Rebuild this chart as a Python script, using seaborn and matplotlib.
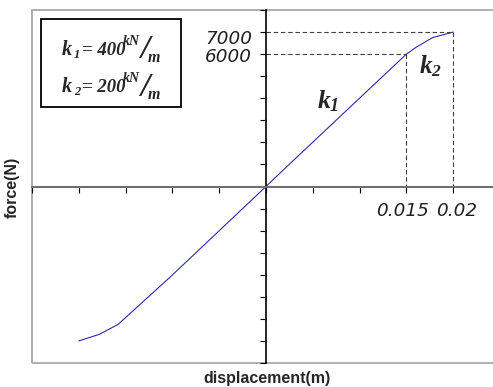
import numpy as np
import pandas as pd
import seaborn as sns
import matplotlib.pyplot as plt
from matplotlib.patches import Rectangle

# force - displacement curve (bilinear spring)
disp = [-0.02, -0.0178, -0.0158, -0.0101, 0.0, 0.0019, 0.015, 0.016, 0.0178, 0.02]
force = [-7000, -6700, -6250, -4050, 0, 770, 6000, 6300, 6750, 7000]

# reference points marked with dashed lines
yield_disp = [0.015, 0.02]
yield_force = [6000, 7000]
force_labels = ["7000", "6000"]
disp_labels = ["0.015", "0.02"]
stiffness = ["400", "200"]

sns.set_style("white")
plt.rcParams["mathtext.fontset"] = "custom"
plt.rcParams["mathtext.it"] = "Liberation Serif:italic:bold"
plt.rcParams["mathtext.rm"] = "Liberation Serif:italic:bold"
plt.rcParams["mathtext.bf"] = "Liberation Serif:italic:bold"

df = pd.DataFrame({"displacement": disp, "force": force})

W, H = 493, 387
fig = plt.figure(figsize=(W / 100, H / 100), dpi=100)
ax = fig.add_axes([32 / W, 1 - 363 / H, 482 / W, 353 / H])

sns.lineplot(data=df, x="displacement", y="force", sort=False, color="#2b2bb0",
             linewidth=0.8, ax=ax)

ax.set_xlim(-0.025, 0.0265)
ax.set_ylim(-8000, 8000)

# axes crossing at the origin
for s in ["top", "right"]:
    ax.spines[s].set_visible(False)
ax.spines["left"].set_position(("data", 0))
ax.spines["bottom"].set_position(("data", 0))
ax.spines["left"].set_color("black")
ax.spines["left"].set_linewidth(1.2)
ax.spines["bottom"].set_color("#707070")
ax.spines["bottom"].set_linewidth(1.5)

# grey outer frame
ax.add_patch(Rectangle((0, 0), 1, 1, transform=ax.transAxes, fill=False,
                       edgecolor="#a8a8a8", linewidth=1.3, clip_on=False, zorder=0))

ax.set_xticks(np.arange(-0.025, 0.0251, 0.005))
ax.set_yticks(np.arange(-8000, 8001, 1000))
ax.tick_params(axis="both", direction="out", length=4, width=0.8, color="black",
               labelbottom=False, labelleft=False, bottom=True, left=True)
ax.set_xlabel("")
ax.set_ylabel("")

# dashed guide lines
for xd, fy in zip(yield_disp, yield_force):
    ax.plot([0, xd], [fy, fy], ls=(0, (4, 2.5)), color="#404040", lw=0.8)
    ax.plot([xd, xd], [fy, 0], ls=(0, (4, 2.5)), color="#404040", lw=0.8)

lab = dict(fontsize=13.2, style="italic", color="#202020")
ax.text(-0.0015, 6700, force_labels[0], ha="right", va="center", **lab)
ax.text(-0.0015, 5850, force_labels[1], ha="right", va="center", **lab)
ax.text(0.01464, -1090, disp_labels[0], ha="center", va="center", **lab)
ax.text(0.0204, -1090, disp_labels[1], ha="center", va="center", **lab)

ax.text(0.0066, 3850, r"$k_1$", ha="center", va="center", fontsize=18.5)
ax.text(0.0176, 5475, r"$k_2$", ha="center", va="center", fontsize=18)


def ftext(px, py, s, **kw):
    fig.text(px / W, 1 - py / H, s, **kw)


# stiffness box
fig.patches.append(Rectangle((41 / W, 1 - 107 / H), 140 / W, 88 / H,
                             transform=fig.transFigure, fill=False,
                             edgecolor="black", linewidth=1.3))
serif = dict(family="Liberation Serif", style="italic", fontweight="bold")
for i, val in enumerate(stiffness):
    dy = 37 * i
    ftext(62, 55 + dy, "k", ha="left", va="baseline", fontsize=14.5, **serif)
    ftext(74, 58 + dy, str(i + 1), ha="left", va="baseline", fontsize=9, **serif)
    ftext(82, 55 + dy, "= " + val, ha="left", va="baseline", fontsize=13.5, **serif)
    ftext(123, 45 + dy, "kN", ha="left", va="baseline", fontsize=10, **serif)
    ftext(145, 50 + dy, "/", ha="center", va="center", fontsize=24, **serif)
    ftext(154, 62 + dy, "m", ha="center", va="baseline", fontsize=11.5, **serif)

ftext(267, 379, "displacement(m)", ha="center", va="center",
      fontsize=11.5, fontweight="bold", family="Liberation Sans")
ftext(12, 187, "force(N)", ha="center", va="center", rotation=90,
      fontsize=11.5, fontweight="bold", family="Liberation Sans")

fig.savefig("out.png", dpi=100)
